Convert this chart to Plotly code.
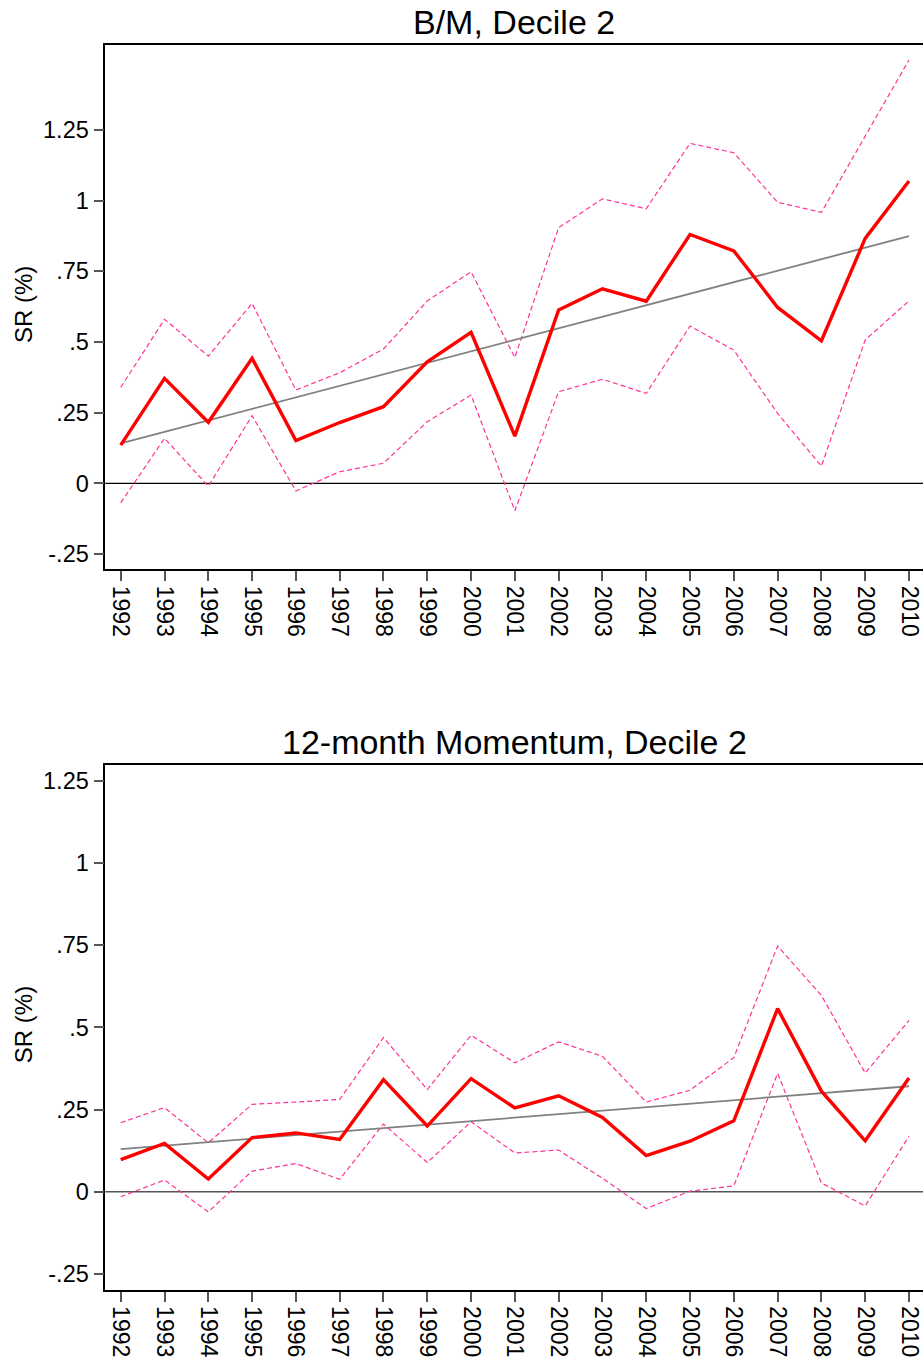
import plotly.graph_objects as go

years = list(range(1992, 2011))

# Panel 1: B/M, Decile 2
bm_sr = [0.135, 0.371, 0.216, 0.442, 0.151, 0.215, 0.271, 0.430, 0.534, 0.167,
         0.613, 0.688, 0.644, 0.880, 0.822, 0.622, 0.504, 0.866, 1.069]
bm_upper = [0.339, 0.580, 0.450, 0.636, 0.330, 0.391, 0.475, 0.645, 0.748, 0.445,
            0.904, 1.006, 0.971, 1.202, 1.169, 0.994, 0.958, 1.226, 1.497]
bm_lower = [-0.069, 0.159, -0.010, 0.239, -0.027, 0.041, 0.071, 0.218, 0.312, -0.097,
            0.324, 0.368, 0.318, 0.556, 0.471, 0.247, 0.061, 0.507, 0.645]
bm_trend_years = [1992, 2010]
bm_trend = [0.141, 0.874]

# Panel 2: 12-month Momentum, Decile 2
mom_sr = [0.098, 0.147, 0.039, 0.165, 0.179, 0.159, 0.341, 0.200, 0.344, 0.255,
          0.292, 0.226, 0.110, 0.154, 0.216, 0.557, 0.306, 0.155, 0.346]
mom_upper = [0.210, 0.256, 0.149, 0.266, 0.273, 0.281, 0.469, 0.311, 0.476, 0.392,
             0.456, 0.412, 0.273, 0.309, 0.408, 0.747, 0.597, 0.361, 0.521]
mom_lower = [-0.015, 0.036, -0.061, 0.063, 0.086, 0.038, 0.206, 0.089, 0.213, 0.118,
             0.127, 0.041, -0.051, 0.002, 0.018, 0.360, 0.027, -0.043, 0.169]
mom_trend_years = [1992, 2010]
mom_trend = [0.130, 0.321]

titles = ["B/M, Decile 2", "12-month Momentum, Decile 2"]
y_title = "SR (%)"
ytick_vals = [-0.25, 0, 0.25, 0.5, 0.75, 1, 1.25]
ytick_text = ["-.25", "0", ".25", ".5", ".75", "1", "1.25"]

W, H = 923, 1363
FONT = "Liberation Sans, Arial, Helvetica, sans-serif"
RED = "#ff0000"
PINK = "#ff3399"
GRAY = "#808080"

def py(y):  # pixel y (from top) to paper
    return (H - y) / H

fig = go.Figure()

panels = [
    dict(sr=bm_sr, up=bm_upper, lo=bm_lower, ty=bm_trend_years, tv=bm_trend,
         xa="x", ya="y", top=44.7, bot=569.3, yr=[-0.304, 1.551], title_y=21.5, zc="#000000"),
    dict(sr=mom_sr, up=mom_upper, lo=mom_lower, ty=mom_trend_years, tv=mom_trend,
         xa="x2", ya="y2", top=764.7, bot=1289.7, yr=[-0.2976, 1.2986], title_y=741.5, zc="#555555"),
]

x_left = 105.3 / W
layout_axes = {}
for i, p in enumerate(panels):
    xa, ya = p["xa"], p["ya"]
    for vals in (p["up"], p["lo"]):
        fig.add_trace(go.Scatter(x=years, y=vals, mode="lines", xaxis=xa, yaxis=ya,
                                 line=dict(color=PINK, width=1.2, dash="5px,3px"),
                                 showlegend=False, hoverinfo="skip"))
    fig.add_trace(go.Scatter(x=p["ty"], y=p["tv"], mode="lines", xaxis=xa, yaxis=ya,
                             line=dict(color=GRAY, width=1.8), showlegend=False))
    fig.add_trace(go.Scatter(x=years, y=p["sr"], mode="lines", xaxis=xa, yaxis=ya,
                             line=dict(color=RED, width=3.4), showlegend=False))
    xkey = "xaxis" if i == 0 else "xaxis2"
    ykey = "yaxis" if i == 0 else "yaxis2"
    layout_axes[xkey] = dict(
        domain=[x_left, 1.0], anchor=ya, range=[1991.648, 2010.32],
        tickmode="array", tickvals=years, ticktext=[str(y) for y in years],
        tickangle=90, ticks="outside", ticklen=10, tickwidth=1.5, tickcolor="#555555",
        showline=True, linecolor="#000000", linewidth=1.6, mirror=True,
        showgrid=False, zeroline=False,
        tickfont=dict(family=FONT, size=23, color="#000000"),
    )
    layout_axes[ykey] = dict(
        domain=[py(p["bot"]), py(p["top"])], anchor=xa, range=p["yr"],
        tickmode="array", tickvals=ytick_vals, ticktext=ytick_text,
        ticks="outside", ticklen=10, tickwidth=1.5, tickcolor="#555555",
        showline=True, linecolor="#000000", linewidth=1.6, mirror=False,
        showgrid=False, zeroline=False,
        tickfont=dict(family=FONT, size=23.5, color="#000000"),
    )
    fig.add_shape(type="line", xref=f"{xa} domain", yref=ya, x0=0, x1=1, y0=0, y1=0,
                  line=dict(color=p["zc"], width=1.4), layer="below")
    fig.add_annotation(text=titles[i], xref="paper", yref="paper",
                       x=(x_left + 1.0) / 2, y=py(p["title_y"]), xanchor="center", yanchor="middle",
                       showarrow=False, font=dict(family=FONT, size=34, color="#000000"))
    fig.add_annotation(text=y_title, xref="paper", yref="paper", textangle=-90,
                       x=23 / W, y=py((p["top"] + p["bot"]) / 2 - 2), xanchor="center", yanchor="middle",
                       showarrow=False, font=dict(family=FONT, size=24, color="#000000"))

fig.update_layout(
    width=W, height=H, margin=dict(l=0, r=0, t=0, b=0),
    paper_bgcolor="#ffffff", plot_bgcolor="#ffffff",
    showlegend=False, **layout_axes,
)

fig.write_html("out.html")
